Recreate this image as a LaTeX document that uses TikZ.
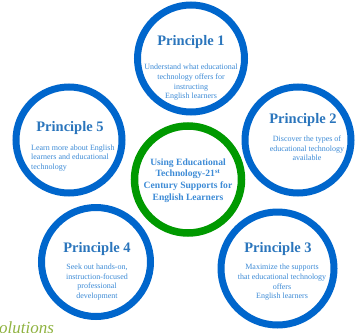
\documentclass[tikz,border=0pt]{standalone}
\usepackage{fontspec}
\setmainfont{Liberation Serif}
\definecolor{ringblue}{HTML}{0066CC}
\definecolor{ringgreen}{HTML}{009900}
\definecolor{titleblue}{HTML}{2A75BC}
\definecolor{descblue}{HTML}{3D8BD6}
\definecolor{olive}{HTML}{8FB340}
\tikzset{
  ring/.style={circle, draw=ringblue, line width=7pt, inner sep=0pt, fill=white},
  gring/.style={circle, draw=ringgreen, line width=7.5pt, inner sep=0pt, fill=white},
  ptitle/.style={text=titleblue, font=\fontsize{14.5}{17}\selectfont\bfseries, inner sep=0pt},
  pdesc/.style={text=descblue, font=\fontsize{8}{9.7}\selectfont, align=center, inner sep=0pt},
  ctext/.style={text=descblue, font=\fontsize{9.6}{11.7}\selectfont\bfseries, align=center, inner sep=0pt}
}
\begin{document}
\begin{tikzpicture}[x=1pt,y=-1pt]
\useasboundingbox (0,0) rectangle (355,332);
\clip (0,0) rectangle (355,332);
% circles
\node[ring, minimum size=107pt] (c1) at (191,58.5) {};
\node[ring, minimum size=106pt] (c5) at (69,140) {};
\node[ring, minimum size=106pt] (c2) at (298,140) {};
\node[gring, minimum size=107pt] (cc) at (188,179.5) {};
\node[ring, minimum size=109pt] (c4) at (96,262) {};
\node[ring, minimum size=113pt] (c3) at (277.5,268.5) {};
% texts
\node[ptitle] (t1) at (191,42) {Principle 1};
\node[pdesc] (d1) at (191,82.5) {Understand what educational\\technology offers for\\instructing\\English learners};
\node[ptitle] (t5) at (70,128) {Principle 5};
\node[pdesc, align=left, anchor=west] (d5) at (31,158) {Learn more about English\\learners and educational\\technology};
\node[ptitle] (t2) at (303,120) {Principle 2};
\node[pdesc] (d2) at (307,148.5) {Discover the types of\\educational technology\\available};
\node[ctext] (ct) at (188,180.5) {Using Educational\\Technology-21\textsuperscript{st}\\Century Supports for\\English Learners};
\node[ptitle] (t4) at (97,249) {Principle 4};
\node[pdesc] (d4) at (97,282) {Seek out hands-on,\\instruction-focused\\professional\\development};
\node[ptitle] (t3) at (278,249) {Principle 3};
\node[pdesc] (d3) at (282,282.5) {Maximize the supports\\that educational technology\\offers\\English learners};
\node[text=olive, font=\fontsize{17}{20}\selectfont\itshape, anchor=base west, inner sep=0pt] (sol) at (-9.5,333) {Solutions};
\end{tikzpicture}
\end{document}
